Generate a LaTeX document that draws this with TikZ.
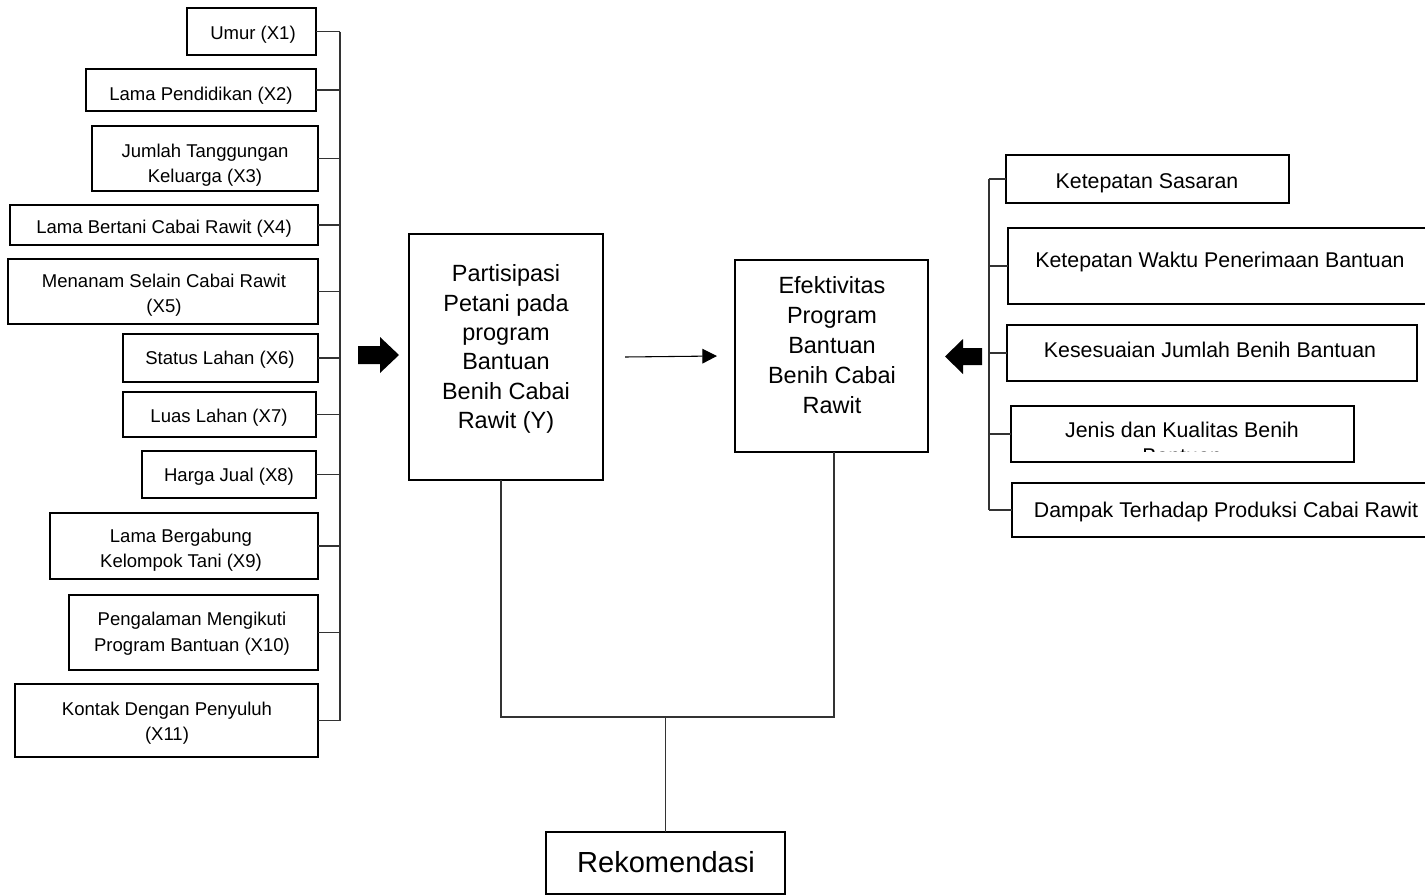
\documentclass[tikz,border=0pt]{standalone}
\usepackage{fontspec}
\setmainfont{Liberation Sans}
\usetikzlibrary{arrows.meta}
\tikzset{
  boxst/.style={draw=black, line width=1.6pt, inner sep=0pt, outer sep=0pt, rectangle},
  conn/.style={draw=black!80, line width=0.8pt},
  lt/.style={font=\fontsize{13.9}{19.1}\selectfont, align=center, inner sep=0pt, anchor=base},
  rt/.style={font=\fontsize{16}{19.5}\selectfont, align=center, inner sep=0pt, anchor=base},
  pt/.style={font=\fontsize{17.6}{22}\selectfont, align=center, inner sep=0pt, anchor=base},
  et/.style={font=\fontsize{17.6}{22.5}\selectfont, align=center, inner sep=0pt, anchor=base},
  rek/.style={font=\fontsize{21.8}{26}\selectfont, inner sep=0pt, anchor=base},
  blockarrow/.style={fill=black, draw=none},
}
\newcommand\mybox[5]{\node[boxst, minimum width={(#4-#2)*0.75pt}, minimum height={(#5-#3)*0.75pt}] (#1) at ({(#2+#4)/2},{(#3+#5)/2}) {};}
\begin{document}
\begin{tikzpicture}[x=0.75pt,y=-0.75pt]
\useasboundingbox (0,0) rectangle (1425,896);
\clip (0,0) rectangle (1425,896);

% left boxes
\mybox{b1}{187}{8}{316}{55}
\mybox{b2}{86}{69}{316}{111}
\mybox{b3}{92}{126}{318}{191}
\mybox{b4}{10}{205}{318}{245}
\mybox{b5}{8}{259}{318}{324}
\mybox{b6}{123}{334}{318}{382}
\mybox{b7}{123}{392}{316}{437}
\mybox{b8}{142}{451}{316}{498}
\mybox{b9}{50}{513}{318}{579}
\mybox{b10}{69}{595}{318}{670}
\mybox{b11}{15}{684}{318}{757}

% (multi-line text nodes are placed by the baseline of their last line)
\node[lt] (t1) at (253,39) {Umur (X1)};
\node[lt] (t2) at (201,100) {Lama Pendidikan (X2)};
\node[lt] (t3) at (205,182.5) {Jumlah Tanggungan\\Keluarga (X3)};
\begin{scope}
  \clip (12,207) rectangle (316,236);
  \node[lt] (t4) at (164,233.5) {Lama Bertani Cabai Rawit (X4)};
\end{scope}
\node[lt] (t5) at (164,312.5) {Menanam Selain Cabai Rawit\\(X5)};
\node[lt] (t6) at (220,364) {Status Lahan (X6)};
\node[lt] (t7) at (219,422) {Luas Lahan (X7)};
\node[lt] (t8) at (229,481) {Harga Jual (X8)};
\node[lt] (t9) at (181,567.5) {Lama Bergabung\\Kelompok Tani (X9)};
\node[lt] (t10) at (192,651) {Pengalaman Mengikuti\\Program Bantuan (X10)};
\node[lt] (t11) at (167,740.5) {Kontak Dengan Penyuluh\\(X11)};

% left bus
\coordinate (busL) at (340,0);
\foreach \b in {b1,b2,b3,b4,b5,b6,b7,b8,b9,b10,b11}
  \draw[conn] (\b.east) -- (\b.east -| busL);
\draw[conn] (b1.east -| busL) -- (b11.east -| busL);

% middle boxes
\mybox{P}{409}{234}{603}{480}
\mybox{E}{735}{260}{928}{452}
\mybox{R}{546}{832}{785}{894}
\node[pt] (pt) at (506,428.5) {Partisipasi\\Petani pada\\program\\Bantuan\\Benih Cabai\\Rawit (Y)};
\node[et] (et) at (832,413) {Efektivitas\\Program\\Bantuan\\Benih Cabai\\Rawit};
\node[rek] (rt) at (666,872) {Rekomendasi};

% block arrows
\fill[blockarrow] (358,346) -- (380,346) -- (380,337) -- (399,355) -- (380,373) -- (380,364) -- (358,364) -- cycle;
\fill[blockarrow] (982,348) -- (963,348) -- (963,339) -- (945,356.5) -- (963,374) -- (963,365) -- (982,365) -- cycle;

% thin arrow
\draw[black, line width=0.8pt, -{Triangle[length=11pt, width=11pt]}] ([xshift=16.5pt]P.east) -- ([xshift=-13.5pt]E.west);

% bottom connectors
\coordinate (jl) at (501,717);
\coordinate (jr) at (834,717);
\draw[conn] (jl |- P.south) -- (jl) -- (jr) -- (jr |- E.south);
\draw[conn] (R.north) -- (R.north |- jl);

% right boxes
\mybox{k1}{1006}{155}{1289}{203}
\mybox{k2}{1008}{228}{1440}{304}
\mybox{k3}{1007}{325}{1417}{381}
\mybox{k4}{1011}{406}{1354}{462}
\mybox{k5}{1012}{483}{1440}{537}

\node[rt] (r1) at (1147,188) {Ketepatan Sasaran};
\node[rt] (r2) at (1220,267) {Ketepatan Waktu Penerimaan Bantuan};
\node[rt] (r3) at (1210,357) {Kesesuaian Jumlah Benih Bantuan};
\begin{scope}
  \clip (1013,408) rectangle (1352,451.5);
  \node[rt] (r4) at (1182,463) {Jenis dan Kualitas Benih\\Bantuan};
\end{scope}
\node[rt] (r5) at (1226,517) {Dampak Terhadap Produksi Cabai Rawit};

% right bus
\coordinate (busR) at (989,0);
\foreach \k in {k1,k2,k3,k4,k5}
  \draw[conn] (\k.west) -- (\k.west -| busR);
\draw[conn] (k1.west -| busR) -- (k5.west -| busR);
\end{tikzpicture}
\end{document}
